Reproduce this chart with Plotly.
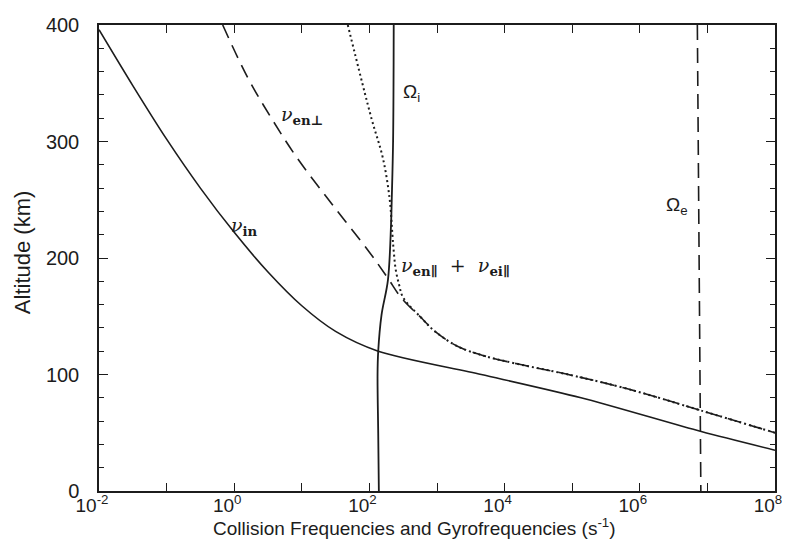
import plotly.graph_objects as go

# values: altitude (km) and frequency (s^-1)
nu_in_alt = [396, 348, 302, 260, 222, 188, 159, 137, 120, 100, 80, 51, 35]
nu_in_freq = [0.01, 0.0316, 0.1, 0.316, 1.0, 3.16, 10, 31.6, 135, 4520, 1.35e5, 8.1e6, 1.0e8]

nu_en_perp_alt = [400, 355, 320, 286, 246, 205, 183, 166, 148.5, 137, 124, 116, 109, 100, 87.5, 69, 50]
nu_en_perp_freq = [0.676, 1.58, 3.55, 8.5, 28.2, 100, 186, 295, 589, 933, 2040, 5010, 1.58e4,
                   8.71e4, 6.76e5, 8.13e6, 1.0e8]

nu_par_alt = [400, 320, 286, 250, 220, 206, 190, 177, 166, 148.5, 137, 124, 116, 109, 100, 87.5, 69, 50]
nu_par_freq = [47.9, 107, 158, 200, 219, 229, 245, 275, 316, 589, 933, 2040, 5010, 1.58e4,
               8.71e4, 6.76e5, 8.13e6, 1.0e8]

omega_i_alt = [400, 300, 250, 229, 181, 151, 120, 100, 50, 0]
omega_i_freq = [229, 224, 214, 209, 188, 151, 135, 132, 135, 138]

omega_e_alt = [400, 200, 0]
omega_e_freq = [7.1e6, 7.6e6, 8.0e6]

x_tickvals = [1e-2, 1e-1, 1e0, 1e1, 1e2, 1e3, 1e4, 1e5, 1e6, 1e7, 1e8]
x_ticktext = ["10<sup>-2</sup>", "", "10<sup>0</sup>", "", "10<sup>2</sup>", "",
              "10<sup>4</sup>", "", "10<sup>6</sup>", "", "10<sup>8</sup>"]

ink = "#1c1c1c"
fig = go.Figure()

fig.add_trace(go.Scatter(x=nu_in_freq, y=nu_in_alt, mode="lines", line_shape="spline",
                         line=dict(color=ink, width=1.6, smoothing=0.8)))
fig.add_trace(go.Scatter(x=nu_en_perp_freq, y=nu_en_perp_alt, mode="lines", line_shape="spline",
                         line=dict(color=ink, width=1.6, dash="14px,8px")))
fig.add_trace(go.Scatter(x=nu_par_freq, y=nu_par_alt, mode="lines", line_shape="spline",
                         line=dict(color=ink, width=2, dash="2px,3px")))
fig.add_trace(go.Scatter(x=omega_i_freq, y=omega_i_alt, mode="lines", line_shape="spline",
                         line=dict(color=ink, width=1.8)))
fig.add_trace(go.Scatter(x=omega_e_freq, y=omega_e_alt, mode="lines",
                         line=dict(color=ink, width=1.6, dash="15px,8px")))

# curve labels: x in log10 units, y in km
labels = [
    (2.62, 342, "Ω<sub>i</sub>", "Liberation Sans"),
    (1.0, 322, "<i>ν</i><sub><b>en⊥</b></sub>", "DejaVu Serif"),
    (0.15, 227, "<i>ν</i><sub><b>in</b></sub>", "DejaVu Serif"),
    (3.28, 193, "<i>ν</i><sub><b>en∥</b></sub>  +  <i>ν</i><sub><b>ei∥</b></sub>", "DejaVu Serif"),
    (6.55, 245, "Ω<sub>e</sub>", "Liberation Sans"),
]
for lx, ly, txt, fam in labels:
    fig.add_annotation(x=lx, y=ly, text=txt, showarrow=False,
                       font=dict(size=19, color=ink, family=fam))

# axis titles placed as annotations so they sit where the original has them
fig.add_annotation(xref="paper", yref="paper", x=0.466, y=-0.078,
                   xanchor="center", yanchor="middle",
                   text="Collision Frequencies and Gyrofrequencies (s<sup>-1</sup>)",
                   showarrow=False, font=dict(size=19, color=ink))
fig.add_annotation(xref="paper", yref="paper", x=-0.112, y=0.511, textangle=-90,
                   xanchor="center", yanchor="middle",
                   text="Altitude (km)", showarrow=False, font=dict(size=22, color=ink))

fig.update_layout(
    width=790, height=546,
    margin=dict(l=91, r=23, t=17, b=63),
    paper_bgcolor="white", plot_bgcolor="white",
    showlegend=False,
    font=dict(family="Liberation Sans", color=ink),
)
fig.update_xaxes(
    type="log", range=[-2, 8], automargin=False,
    tickvals=x_tickvals, ticktext=x_ticktext,
    ticks="inside", ticklen=8, tickwidth=1.2, tickcolor=ink,
    showline=True, linecolor=ink, linewidth=1.5, mirror="allticks",
    showgrid=False, zeroline=False,
    tickfont=dict(size=19), ticklabelstandoff=-4, ticklabelshift=-7,
    ticklabeloverflow="allow",
)
fig.update_yaxes(
    range=[0, 400], tick0=0, dtick=100, automargin=False,
    ticks="inside", ticklen=9, tickwidth=1.2, tickcolor=ink,
    minor=dict(dtick=20, ticks="inside", ticklen=5, tickcolor=ink),
    showline=True, linecolor=ink, linewidth=1.5, mirror="allticks",
    showgrid=False, zeroline=False,
    tickfont=dict(size=20), ticklabelstandoff=14,
)

fig.write_html("out.html")
